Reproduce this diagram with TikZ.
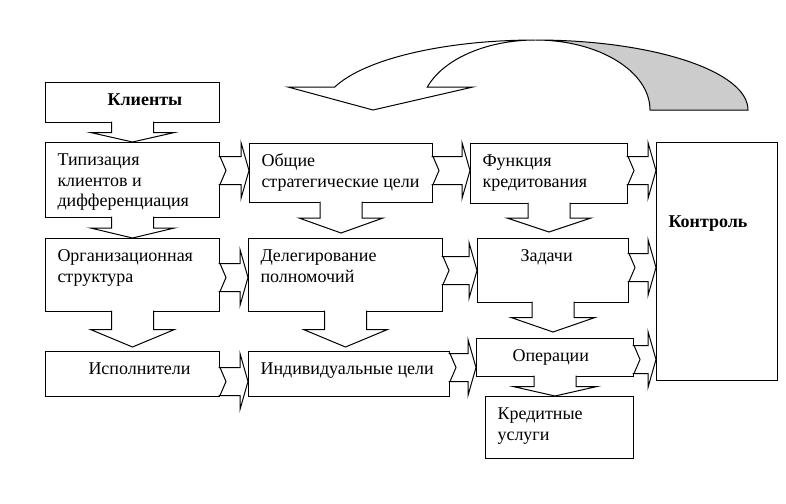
\documentclass[tikz,border=0pt]{standalone}
\usepackage{fontspec}
\setmainfont{Liberation Serif}
\usetikzlibrary{calc}
\newdimen\pxu \pxu=0.5pt
\newcommand{\boxtext}[4][0pt]{\parbox[t][\dimexpr#3\pxu-9pt\relax][t]{\dimexpr#2\pxu-12pt\relax}{\raggedright\vspace*{#1}\strut#4}}

\begin{document}
\begin{tikzpicture}[x=0.5pt,y=-0.5pt,line width=0.5pt,
  blk/.style={draw,fill=white,anchor=north west,inner xsep=6pt,inner ysep=4.5pt,font=\fontsize{9}{10.25}\selectfont},
  rblk/.style={draw,fill=white,to path={let \p1=(\tikztostart),\p2=(\tikztotarget) in
    (\x1-0.75pt,\y1-7pt) -- (\x2-4pt,\y1-7pt) -- (\x2-4pt,\y1-14pt) -- (\x2,\y1)
    -- (\x2-4pt,\y1+14pt) -- (\x2-4pt,\y1+7pt) -- (\x1,\y1+7pt) -- (\x1+3pt,\y1)
    -- (\x1,\y1-7pt) -- (\x1+3pt,\y1) -- (\x1,\y1+7pt) -- (\x1-0.75pt,\y1+7pt)}},
  dblk/.style={draw,fill=white,to path={let \p1=(\tikztostart),\p2=(\tikztotarget),
    \n1={(\y1+\y2+#1)/2} in
    (\x1-10.5pt,\y1+0.75pt) -- (\x1-10.5pt,\n1) -- (\x1-21pt,\n1) -- (\x1,\y2+#1)
    -- (\x1+21pt,\n1) -- (\x1+10.5pt,\n1) -- (\x1+10.5pt,\y1+0.75pt)}},
  dblk/.default=0pt]
\useasboundingbox (0,0) rectangle (786,503);

% boxes
\node[blk] (kli) at (45,82) {\boxtext{174}{40}{\hspace*{50\pxu}\textbf{Клиенты}}};
\node[blk] (tip) at (45,142) {\boxtext{174}{75}{Типизация\\клиентов~и\\дифференциация}};
\node[blk] (org) at (45,238) {\boxtext{174}{73}{Организационная\\структура}};
\node[blk] (isp) at (45,351) {\boxtext{174}{45}{\hspace*{31\pxu}Исполнители}};
\node[blk] (obs) at (249,143) {\boxtext{183}{59}{Общие\\стратегические~цели}};
\node[blk] (del) at (248,238) {\boxtext{194}{73}{Делегирование\\полномочий}};
\node[blk] (ind) at (248,351) {\boxtext{201}{45}{Индивидуальные~цели}};
\node[blk] (fun) at (470,143) {\boxtext{157}{60}{Функция\\кредитования}};
\node[blk] (zad) at (477,238) {\boxtext{151}{64}{\hspace*{31\pxu}Задачи}};
\node[blk] (oper) at (476,338) {\boxtext{157}{38}{\hspace*{24\pxu}Операции}};
\node[blk] (kred) at (485,396) {\boxtext{148}{62}{Кредитные\\услуги}};
\node[blk] (kon) at (656,142) {\boxtext[62\pxu]{121}{238}{\textbf{Контроль}}};

% down arrows
\draw[dblk] (kli.south) to (tip.north);
\draw[dblk] (tip.south) to (org.north);
\draw[dblk=2pt] (org.south) to (isp.north);
\draw[dblk=2.5pt] (obs.south) to (del.north);
\draw[dblk=2pt] (del.south) to (ind.north);
\draw[dblk=3pt] (fun.south) to (zad.north);
\draw[dblk=3pt] (zad.south) to (oper.north);
\draw[dblk] (oper.south) to (kred.north);

% right arrows
\draw[rblk] ([yshift=4.75pt]tip.east) to (obs.west);
\draw[rblk] ([yshift=1.25pt]obs.east) to (fun.west);
\draw[rblk] ([yshift=1.5pt]fun.east) to (kon.west);
\draw[rblk] ([yshift=-1.25pt]org.east) to (del.west);
\draw[rblk] ([yshift=2.25pt]del.east) to (zad.west);
\draw[rblk] ([yshift=1.5pt]zad.east) to (kon.west);
\draw[rblk] ([yshift=-3.75pt]isp.east) to (ind.west);
\draw[rblk] ([yshift=3.25pt]ind.east) to (oper.west);
\draw[rblk] ([yshift=-1pt]oper.east) to (kon.west);

% curved arrow on top
\filldraw[fill=white] (334.8,87) arc[start angle=160.8,end angle=90,x radius=106.25pt,y radius=35pt]
  arc[start angle=90,end angle=160.8,x radius=57.25pt,y radius=35pt]
  -- (473,87) -- (373,110) -- (288,87) -- cycle;
\filldraw[fill=gray!40] (535.5,40) arc[start angle=90,end angle=0,x radius=106.25pt,y radius=35pt]
  -- (650,110) arc[start angle=0,end angle=90,x radius=57.25pt,y radius=35pt] -- cycle;
\end{tikzpicture}
\end{document}
